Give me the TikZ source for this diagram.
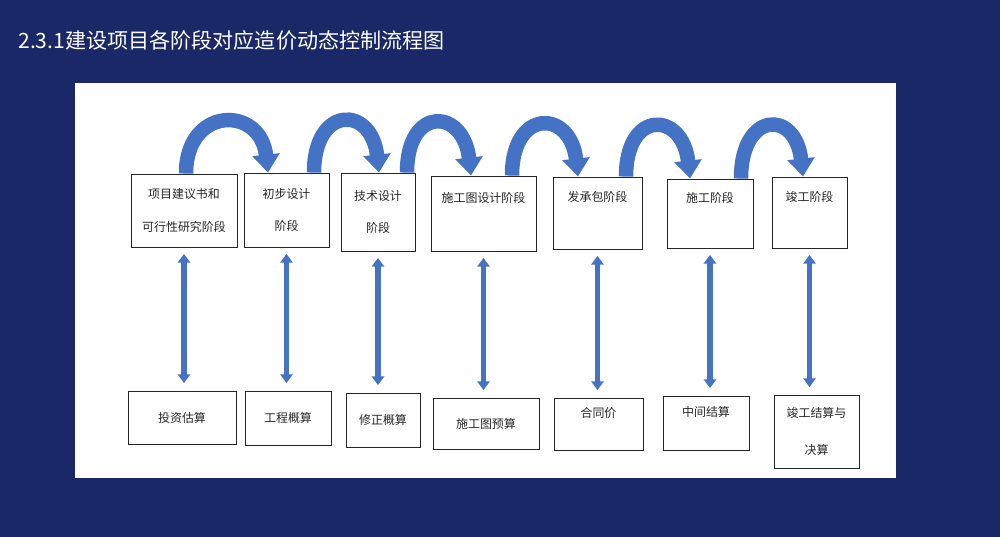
\documentclass[tikz,border=0pt]{standalone}
\usepackage{fontspec}
\setmainfont{Noto Sans CJK SC}
\usetikzlibrary{arrows.meta, positioning, calc}
\definecolor{bgnavy}{HTML}{1A2867}
\definecolor{arblue}{HTML}{4472C4}
\definecolor{txgrey}{HTML}{262626}

\begin{document}
\begin{tikzpicture}[font=\fontsize{6.8}{18.7}\selectfont,
      stg/.style={draw=black!85, line width=0.5pt, fill=white, align=center, inner sep=1pt, text=txgrey},
      vtw/.style={draw=arblue, line width=3.2pt, {Triangle[width=7pt,length=5pt]}-{Triangle[width=7pt,length=5pt]},
                  shorten <=0.13cm, shorten >=0.15cm},
      hop/.style={draw=arblue, line width=0.29cm, -{Triangle[width=0.53cm,length=0.36cm]}}]
      \useasboundingbox (0,0) rectangle (20,10.74);
      \fill[bgnavy] (0,0) rectangle (20,10.74);
      \fill[white] (1.5,1.18) rectangle (17.92,9.08);

      \node[anchor=west, inner sep=0pt, text=white, font=\fontsize{12}{14}\selectfont] (ttl) at (0.36,9.94)
        {2.3.1建设项目各阶段对应造价动态控制流程图};

      % stages
      \node[stg, minimum width=2.12cm, minimum height=1.46cm] (t1) at (3.68,6.53) {项目建议书和\\可行性研究阶段};
      \node[stg, minimum width=1.70cm, minimum height=1.48cm] (t2) at (5.73,6.54) {初步设计\\阶段};
      \node[stg, minimum width=1.48cm, minimum height=1.56cm] (t3) at (7.56,6.50) {技术设计\\阶段};
      \node[stg, minimum width=2.10cm, minimum height=1.50cm] (t4) at (9.67,6.47) {施工图设计阶段\\\mbox{}};
      \node[stg, minimum width=1.78cm, minimum height=1.44cm] (t5) at (11.95,6.48) {发承包阶段\\\mbox{}};
      \node[stg, minimum width=1.72cm, minimum height=1.38cm] (t6) at (14.20,6.47) {施工阶段\\\mbox{}};
      \node[stg, minimum width=1.50cm, minimum height=1.42cm] (t7) at (16.19,6.49) {竣工阶段\\\mbox{}};

      % costs
      \node[stg, minimum width=2.16cm, minimum height=1.06cm] (b1) at (3.64,2.39) {投资估算};
      \node[stg, minimum width=1.72cm, minimum height=1.08cm] (b2) at (5.76,2.38) {工程概算};
      \node[stg, minimum width=1.48cm, minimum height=1.08cm] (b3) at (7.66,2.34) {修正概算};
      \node[stg, minimum width=2.12cm, minimum height=1.02cm] (b4) at (9.72,2.27) {施工图预算};
      \node[stg, minimum width=1.78cm, minimum height=1.04cm, text depth=0.45cm] (b5) at (11.97,2.26) {合同价};
      \node[stg, minimum width=1.72cm, minimum height=1.08cm, text depth=0.45cm] (b6) at (14.12,2.28) {中间结算};
      \node[stg, minimum width=1.70cm, minimum height=1.46cm] (b7) at (16.33,2.11) {竣工结算与\\[2pt]决算};

      \foreach \i in {1,...,7}
        \draw[vtw] (t\i.south) -- (t\i.south |- b\i.north);

      \foreach \a/\b/\fx/\tx in {1/2/3.72/5.36, 2/3/6.28/7.58, 3/4/8.14/9.42,
                                 4/5/10.24/11.56, 5/6/12.52/13.80, 6/7/14.82/16.06}
        \draw[hop] (\fx,0 |- t\a.north) .. controls +(0,1.35) and +(-0.15,1.35) .. (\tx,0 |- t\b.north);
    \end{tikzpicture}
\end{document}
